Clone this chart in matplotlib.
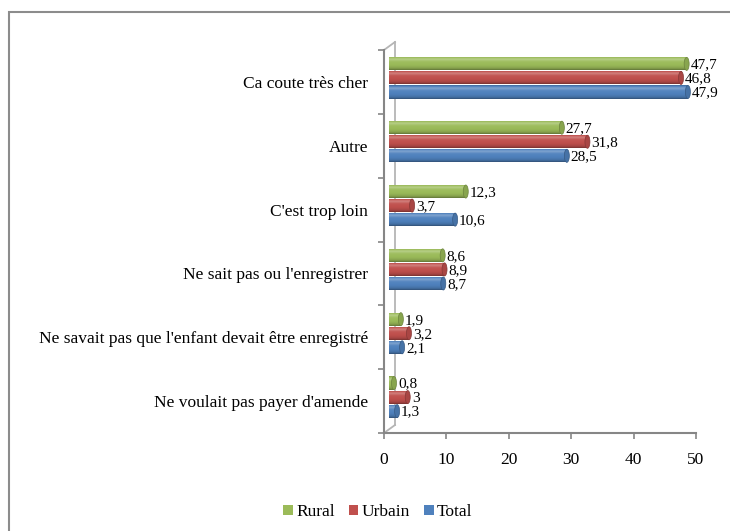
import matplotlib
matplotlib.use("Agg")
import matplotlib.pyplot as plt
import numpy as np
from matplotlib import transforms
from matplotlib.patches import Ellipse, Patch, Rectangle
from matplotlib.lines import Line2D
from matplotlib.colors import to_rgb

plt.rcParams['font.family'] = ['Liberation Serif', 'DejaVu Serif']

# ---- data -------------------------------------------------------------
categories = [
    "Ca coute très cher",
    "Autre",
    "C'est trop loin",
    "Ne sait pas ou l'enregistrer",
    "Ne savait pas que l'enfant devait être enregistré",
    "Ne voulait pas payer d'amende",
]
rural = [47.7, 27.7, 12.3, 8.6, 1.9, 0.8]
urbain = [46.8, 31.8, 3.7, 8.9, 3.2, 3.0]
total = [47.9, 28.5, 10.6, 8.7, 2.1, 1.3]
series_names = ["Rural", "Urbain", "Total"]
x_ticks = [0, 10, 20, 30, 40, 50]

colors = ["#9BBB59", "#C0504D", "#4F81BD"]
axis_grey = "#868686"

# ---- figure -----------------------------------------------------------
W, H = 730, 531
fig = plt.figure(figsize=(W / 100, H / 100), dpi=100)
ax = fig.add_axes([384 / W, 1 - 433 / H, 312 / W, 383 / H])

# outer frame around the chart area
fig.add_artist(Rectangle((9 / W, -0.2), 1.5, 1.2 - 12 / H,
                         transform=fig.transFigure, fill=False,
                         edgecolor="#8c8c8c", linewidth=1.5))

n = len(categories)
ypos = np.arange(n)[::-1]
offsets = [0.22, 0.0, -0.22]
bar_h = 0.205

# bars sit in the middle of the 3-D depth: nudge them right/up a little
bar_tr = transforms.offset_copy(ax.transData, fig=fig, x=5, y=4, units="dots")
lab_tr = transforms.offset_copy(ax.transData, fig=fig, x=9, y=3, units="dots")


def shade(rgb, k):
    rgb = np.asarray(rgb)
    if k < 1:
        return rgb * k
    return rgb + (1 - rgb) * (k - 1)


t_pts = [0.0, 0.12, 0.3, 0.6, 0.78, 0.92, 1.0]
k_pts = [0.62, 0.85, 0.97, 1.04, 1.28, 1.0, 0.8]
t = np.linspace(0, 1, 64)
k_prof = np.interp(t, t_pts, k_pts)


def fmt(v):
    return f"{v:g}".replace(".", ",")


for vals, off, col in zip([rural, urbain, total], offsets, colors):
    base = to_rgb(col)
    grad = np.array([shade(base, k) for k in k_prof])[:, None, :]
    bars = ax.barh(ypos + off, vals, height=bar_h, color=col, linewidth=0,
                   transform=bar_tr, zorder=2)
    for rect, v, yc in zip(bars, vals, ypos + off):
        im = ax.imshow(grad, origin="lower", aspect="auto",
                       interpolation="bilinear",
                       extent=[0, v, yc - bar_h / 2, yc + bar_h / 2],
                       transform=bar_tr, zorder=2.1)
        im.set_clip_path(rect)
        ax.add_patch(Ellipse((v, yc), width=0.8, height=bar_h,
                             transform=bar_tr, facecolor=shade(base, 0.88),
                             edgecolor=shade(base, 0.7), linewidth=0.5,
                             zorder=2.2))
        ax.text(v, yc, fmt(v), transform=lab_tr, ha="left", va="center",
                fontsize=11, color="black", zorder=3)

# ---- axes styling -----------------------------------------------------
ax.set_xlim(0, 50)
ax.set_ylim(-0.5, n - 0.5)
ax.set_xticks(x_ticks)
ax.set_xticklabels([str(v) for v in x_ticks], fontsize=12.5)
ax.set_yticks(ypos)
ax.set_yticklabels(categories, fontsize=12.5)
ax.set_yticks(np.arange(-0.5, n), minor=True)
ax.tick_params(axis="y", which="major", length=0, pad=11.5)
ax.tick_params(axis="y", which="minor", length=4.5, width=1.2,
               color=axis_grey, direction="out")
ax.tick_params(axis="x", length=4, width=1.2, color=axis_grey,
               direction="out", pad=10)
for side in ("top", "right"):
    ax.spines[side].set_visible(False)
for side in ("left", "bottom"):
    ax.spines[side].set_color(axis_grey)
    ax.spines[side].set_linewidth(1.5)
ax.patch.set_alpha(0)

# back wall of the 3-D box
dx, dy = 11 / 312, 8 / 383
wall = dict(transform=ax.transAxes, color="#b5b5b5", linewidth=1.3,
            clip_on=False, zorder=1)
ax.add_line(Line2D([dx, dx], [dy, 1 + dy], **wall))
ax.add_line(Line2D([0, dx], [0, dy], **wall))
ax.add_line(Line2D([0, dx], [1, 1 + dy], **wall))

# ---- legend -----------------------------------------------------------
handles = [Patch(facecolor=c, edgecolor="none") for c in colors]
fig.legend(handles, series_names, loc="center",
           bbox_to_anchor=(378 / W, 1 - 512 / H), ncol=3, frameon=False,
           handlelength=0.55, handleheight=0.55, handletextpad=0.2,
           columnspacing=0.8, fontsize=12.5)

fig.savefig("out.png", dpi=100)
